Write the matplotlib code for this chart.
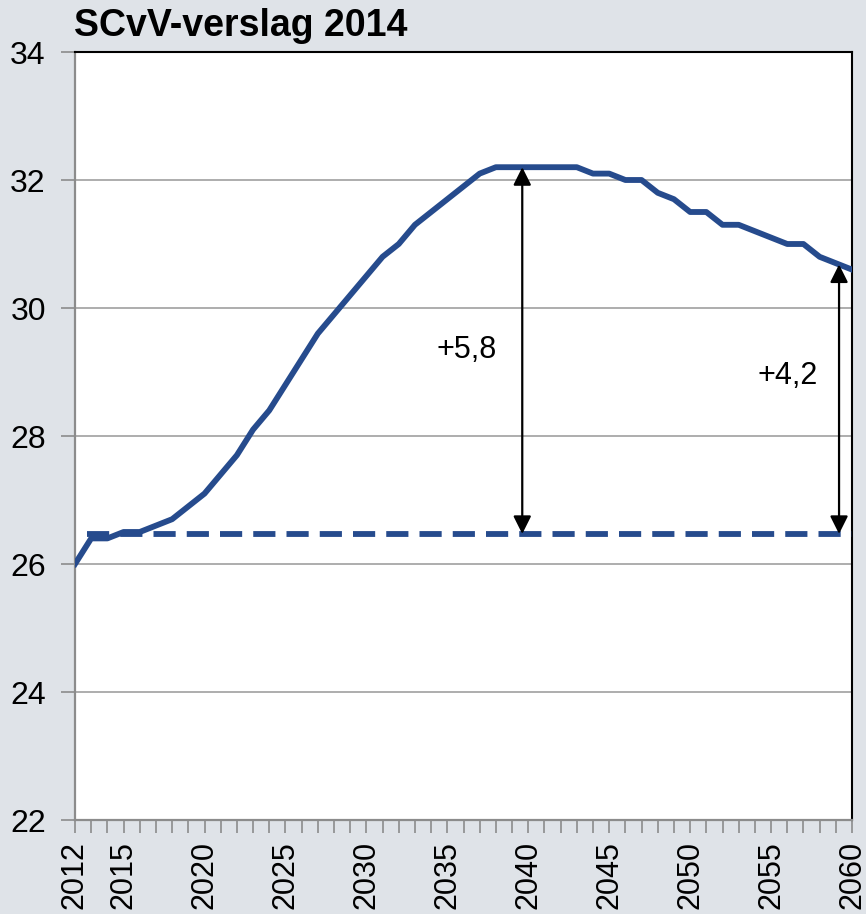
import numpy as np
import matplotlib
matplotlib.use("Agg")
import matplotlib.pyplot as plt

plt.rcParams['font.family'] = ['Liberation Sans', 'DejaVu Sans']

title = "SCvV-verslag 2014"
years = list(range(2012, 2061))
values = [26.0, 26.4, 26.4, 26.5, 26.5, 26.6, 26.7, 26.9, 27.1, 27.4,
          27.7, 28.1, 28.4, 28.8, 29.2, 29.6, 29.9, 30.2, 30.5, 30.8,
          31.0, 31.3, 31.5, 31.7, 31.9, 32.1, 32.2, 32.2, 32.2, 32.2,
          32.2, 32.2, 32.1, 32.1, 32.0, 32.0, 31.8, 31.7, 31.5, 31.5,
          31.3, 31.3, 31.2, 31.1, 31.0, 31.0, 30.8, 30.7, 30.6]
baseline_value = 26.47
baseline_years = [2012.75, 2060]
labeled_years = [2012, 2015, 2020, 2025, 2030, 2035, 2040, 2045, 2050, 2055, 2060]
y_ticks = [22, 24, 26, 28, 30, 32, 34]
arrow_years = [2039.63, 2059.2]
arrow_labels = ["+5,8", "+4,2"]
label_pos_x = [2036.2, 2056.0]
label_pos_y = [29.34, 28.94]

line_color = "#264B8D"
bg = "#DFE3E8"

fig = plt.figure(figsize=(8.66, 9.14), dpi=100, facecolor=bg)
ax = fig.add_axes([75/866, 1-820/914, (852-75)/866, (820-52)/914])
ax.set_facecolor("white")

ax.set_xlim(years[0], years[-1])
ax.set_ylim(y_ticks[0], y_ticks[-1])

for yv in y_ticks[1:-1]:
    ax.axhline(yv, color="#A0A0A0", lw=1.2, zorder=1)

ax.plot(years, values, color=line_color, lw=4.2, solid_joinstyle='round', zorder=3)
ax.plot(baseline_years, [baseline_value, baseline_value], color=line_color, lw=4.2,
        dashes=(3.8, 1.9), dash_capstyle='butt', zorder=3)

for xa, lab, lx, ly in zip(arrow_years, arrow_labels, label_pos_x, label_pos_y):
    top = float(np.interp(xa, years, values))
    ax.annotate('', xy=(xa, top), xytext=(xa, baseline_value),
                arrowprops=dict(arrowstyle='<|-|>,head_length=0.4,head_width=0.2',
                                color='black', lw=1.6, mutation_scale=27,
                                shrinkA=0, shrinkB=0), zorder=4)
    ax.text(lx, ly, lab, fontsize=22, ha='center', va='center', color='black', zorder=5)

ax.set_yticks(y_ticks)
ax.set_yticklabels([str(v) for v in y_ticks])
ax.set_xticks(years)
ax.set_xticklabels([str(y) if y in labeled_years else '' for y in years], rotation=90)

ax.tick_params(axis='y', length=10, width=1.2, color="#8C8C8C", labelsize=23, pad=11)
ax.tick_params(axis='x', length=9, width=1.2, color="#8C8C8C", labelsize=22, pad=6)

for s in ['left', 'bottom']:
    ax.spines[s].set_color("#8C8C8C")
    ax.spines[s].set_linewidth(1.6)
for s in ['top', 'right']:
    ax.spines[s].set_color("black")
    ax.spines[s].set_linewidth(1.5)

fig.text(74/866, 1-36/914, title, fontsize=27, fontweight='bold', ha='left', va='baseline')

fig.savefig("out.png", dpi=100, facecolor=bg)
